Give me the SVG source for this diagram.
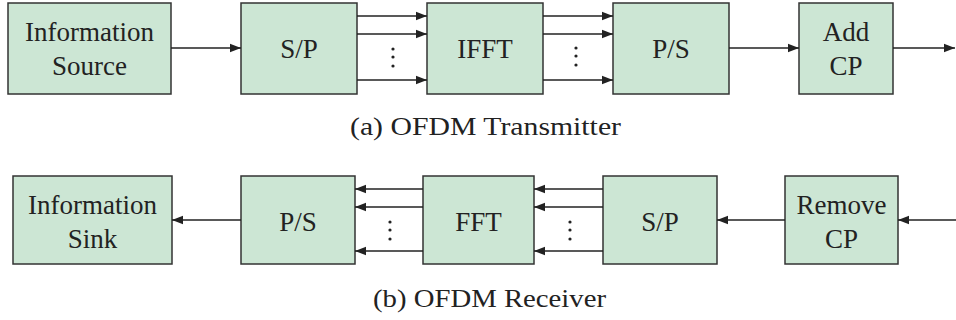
<svg xmlns="http://www.w3.org/2000/svg" width="956" height="320" viewBox="0 0 956 320">
<style>
.box{fill:#cce6d4;stroke:#333;stroke-width:1.5}
.t{font-family:'Liberation Serif','Times New Roman','DejaVu Serif',serif;font-size:27px;fill:#222;text-anchor:middle}
.cap{font-family:'Liberation Serif','Times New Roman','DejaVu Serif',serif;font-size:26px;fill:#222}
.ln{stroke:#222;stroke-width:1.5;fill:none;marker-end:url(#ah)}
.dot{fill:#222}
</style>
<defs>
<marker id="ah" markerUnits="userSpaceOnUse" markerWidth="11" markerHeight="10" viewBox="0 0 11 10" refX="11" refY="5" orient="auto">
<path d="M0,0.8 L11,5 L0,9.2 Z" fill="#222"/>
</marker>
</defs>
<rect width="956" height="320" fill="#fff"/>
<g id="tx-source"><rect class="box" x="8" y="3" width="163" height="91"/><text class="t" x="89.5" y="41">Information</text><text class="t" x="89.5" y="75">Source</text></g>
<g id="tx-sp"><rect class="box" x="241" y="3" width="116" height="91"/><text class="t" x="299" y="58">S/P</text></g>
<g id="tx-ifft"><rect class="box" x="427" y="3" width="116" height="91"/><text class="t" x="485" y="58">IFFT</text></g>
<g id="tx-ps"><rect class="box" x="613" y="3" width="116" height="91"/><text class="t" x="671" y="58">P/S</text></g>
<g id="tx-addcp"><rect class="box" x="799" y="3" width="94" height="91"/><text class="t" x="846" y="41">Add</text><text class="t" x="846" y="75">CP</text></g>
<g id="rx-sink"><rect class="box" x="13" y="176" width="159" height="88"/><text class="t" x="92.5" y="214">Information</text><text class="t" x="92.5" y="248">Sink</text></g>
<g id="rx-ps"><rect class="box" x="241" y="176" width="114" height="88"/><text class="t" x="298" y="231">P/S</text></g>
<g id="rx-fft"><rect class="box" x="423" y="176" width="111" height="88"/><text class="t" x="478.5" y="231">FFT</text></g>
<g id="rx-sp"><rect class="box" x="603" y="176" width="114" height="88"/><text class="t" x="660" y="231">S/P</text></g>
<g id="rx-removecp"><rect class="box" x="785" y="176" width="113" height="88"/><text class="t" x="841.5" y="214">Remove</text><text class="t" x="841.5" y="248">CP</text></g>
<g id="connectors">
<line class="ln" x1="171" y1="48" x2="241" y2="48"/>
<line class="ln" x1="357" y1="16" x2="427" y2="16"/>
<line class="ln" x1="357" y1="34" x2="427" y2="34"/>
<line class="ln" x1="357" y1="80" x2="427" y2="80"/>
<line class="ln" x1="543" y1="16" x2="613" y2="16"/>
<line class="ln" x1="543" y1="34" x2="613" y2="34"/>
<line class="ln" x1="543" y1="80" x2="613" y2="80"/>
<line class="ln" x1="729" y1="48" x2="799" y2="48"/>
<line class="ln" x1="893" y1="48" x2="955" y2="48"/>
<line class="ln" x1="956" y1="220" x2="898" y2="220"/>
<line class="ln" x1="785" y1="220" x2="717" y2="220"/>
<line class="ln" x1="603" y1="189" x2="534" y2="189"/>
<line class="ln" x1="603" y1="207" x2="534" y2="207"/>
<line class="ln" x1="603" y1="251" x2="534" y2="251"/>
<line class="ln" x1="423" y1="189" x2="355" y2="189"/>
<line class="ln" x1="423" y1="207" x2="355" y2="207"/>
<line class="ln" x1="423" y1="251" x2="355" y2="251"/>
<line class="ln" x1="241" y1="220" x2="172" y2="220"/>
<circle class="dot" cx="393" cy="49" r="1.6"/><circle class="dot" cx="393" cy="57" r="1.6"/><circle class="dot" cx="393" cy="66" r="1.6"/>
<circle class="dot" cx="576" cy="48" r="1.6"/><circle class="dot" cx="576" cy="56" r="1.6"/><circle class="dot" cx="576" cy="65" r="1.6"/>
<circle class="dot" cx="390" cy="222" r="1.6"/><circle class="dot" cx="390" cy="230" r="1.6"/><circle class="dot" cx="390" cy="239" r="1.6"/>
<circle class="dot" cx="570" cy="222" r="1.6"/><circle class="dot" cx="570" cy="230" r="1.6"/><circle class="dot" cx="570" cy="239" r="1.6"/>
</g>
<text class="cap" x="350" y="135" textLength="271" lengthAdjust="spacingAndGlyphs">(a) OFDM Transmitter</text>
<text class="cap" x="373" y="307" textLength="233" lengthAdjust="spacingAndGlyphs">(b) OFDM Receiver</text>
</svg>
